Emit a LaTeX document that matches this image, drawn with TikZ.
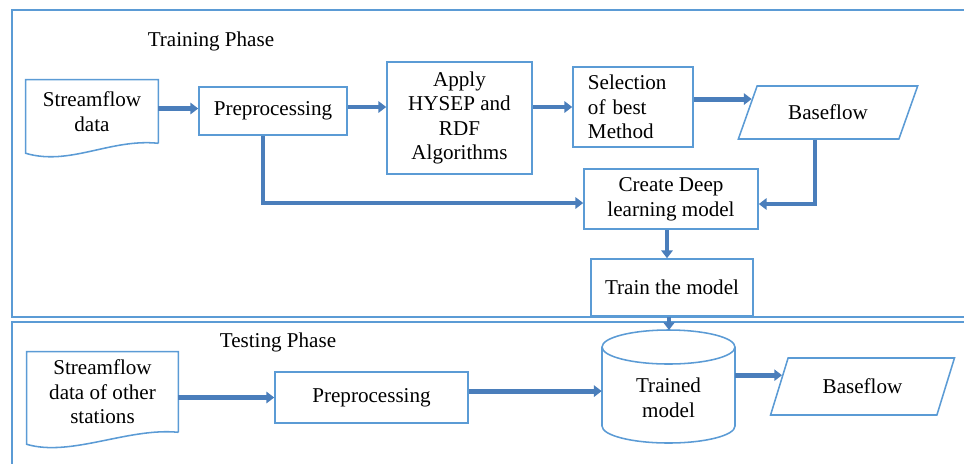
\documentclass[tikz,border=0pt]{standalone}
\usepackage{fontspec}
\setmainfont{Liberation Serif}
\usetikzlibrary{arrows.meta,shapes.geometric}
\definecolor{boxblue}{RGB}{91,155,213}
\definecolor{flowblue}{RGB}{74,126,187}

\begin{document}
\begin{tikzpicture}[x=0.025cm, y=0.025cm,
    font=\fontsize{15}{17.5}\selectfont,
    boxline/.style={draw=boxblue, line width=1.1pt},
    box/.style={boxline, inner sep=0pt, align=center},
    plain/.style={inner sep=0pt, align=center},
    databox/.style={trapezium, trapezium left angle=#1, trapezium right angle=180-#1,
        trapezium stretches=true, boxline, inner sep=0pt},
    flow/.style={draw=flowblue, line width=3.5pt, -{Triangle[length=5.5pt, width=8pt]}}]

    \useasboundingbox (0,0) rectangle (964,-463);
    \clip (0,0) rectangle (964,-463);

    % phase frames
    \draw[boxline] (12,-10) rectangle (990,-317);
    \draw[boxline] (12,-322) rectangle (990,-490);
    \node[plain] (trainlbl) at (211,-41) {Training Phase};
    \node[plain] (testlbl) at (278,-342) {Testing Phase};

    % training phase
    \node[plain, minimum width=3.3cm, minimum height=1.575cm] (sfdata) at (92,-111.5) {Streamflow\\data};
    \draw[boxline] (sfdata.south east) -- (sfdata.north east) -- (sfdata.north west)
        -- ([yshift=-0.25cm]sfdata.south west) .. controls +(44,-13) and +(-48,5) .. (sfdata.south east);
    \node[box, minimum width=3.7cm, minimum height=1.2cm] (prep) at (273,-111) {Preprocessing};
    \node[box, minimum width=3.625cm, minimum height=2.8cm] (apply) at (459.5,-118) {Apply\\HYSEP and\\RDF\\Algorithms};
    \node[box, align=left, text width=2.25cm, inner xsep=0.375cm, minimum height=2cm] (sel) at (633,-107) {Selection\\of best\\Method};
    \node[databox=55, minimum width=4.5cm, minimum height=1.325cm] (base) at (828,-112.5) {Baseflow};
    \node[box, minimum width=4.35cm, minimum height=1.5cm] (create) at (671,-199) {Create Deep\\learning model};
    \node[box, minimum width=4.05cm, minimum height=1.425cm] (train) at (672,-287.5) {Train the model};

    \draw[flow] ([yshift=0.075cm]sfdata.east) -- ([yshift=0.075cm]sfdata.east -| prep.west);
    \draw[flow] ([yshift=0.1cm]prep.east) -- ([yshift=0.1cm]prep.east -| apply.west);
    \draw[flow] (apply.east |- sel.west) -- (sel.west);
    \draw[flow] (sel.east |- base.170) -- (base.170);
    \draw[flow] ([xshift=-0.325cm]base.south) |- ([yshift=-0.125cm]create.east);
    \draw[flow] ([xshift=-0.25cm]prep.south) |- ([yshift=-0.1cm]create.west);
    \draw[flow] ([xshift=-0.1cm]create.south) -- ([xshift=-0.1cm]create.south |- train.north);

    % testing phase
    \node[plain, minimum width=3.775cm, minimum height=2cm] (sfdata2) at (102.5,-392) {Streamflow\\data of other\\stations};
    \draw[boxline] (sfdata2.south east) -- (sfdata2.north east) -- (sfdata2.north west)
        -- ([yshift=-0.3cm]sfdata2.south west) .. controls +(44,-13) and +(-50,5) .. (sfdata2.south east);
    \node[box, minimum width=4.825cm, minimum height=1.275cm] (prep2) at (371.5,-397.5) {Preprocessing};
    \node[plain, minimum width=3.325cm] (model) at (668.5,-398) {Trained\\model};
    \draw[boxline] (668.5,-347) ellipse[x radius=66.5, y radius=17];
    \draw[boxline] (602,-347) -- (602,-426) arc[start angle=180, end angle=360, x radius=66.5, y radius=17] -- (735,-347);
    \coordinate (modeltop) at (669,-330);
    \node[databox=58, minimum width=4.625cm, minimum height=1.425cm] (base2) at (862.5,-386.5) {Baseflow};

    \draw[flow] (modeltop |- train.south) -- (modeltop);
    \draw[flow] (sfdata2.east |- prep2.west) -- (prep2.west);
    \draw[flow] ([yshift=0.16cm]prep2.east) -- ([yshift=0.16cm]prep2.east -| model.west);
    \draw[flow] (model.east |- base2.172) -- (base2.172);
\end{tikzpicture}
\end{document}
